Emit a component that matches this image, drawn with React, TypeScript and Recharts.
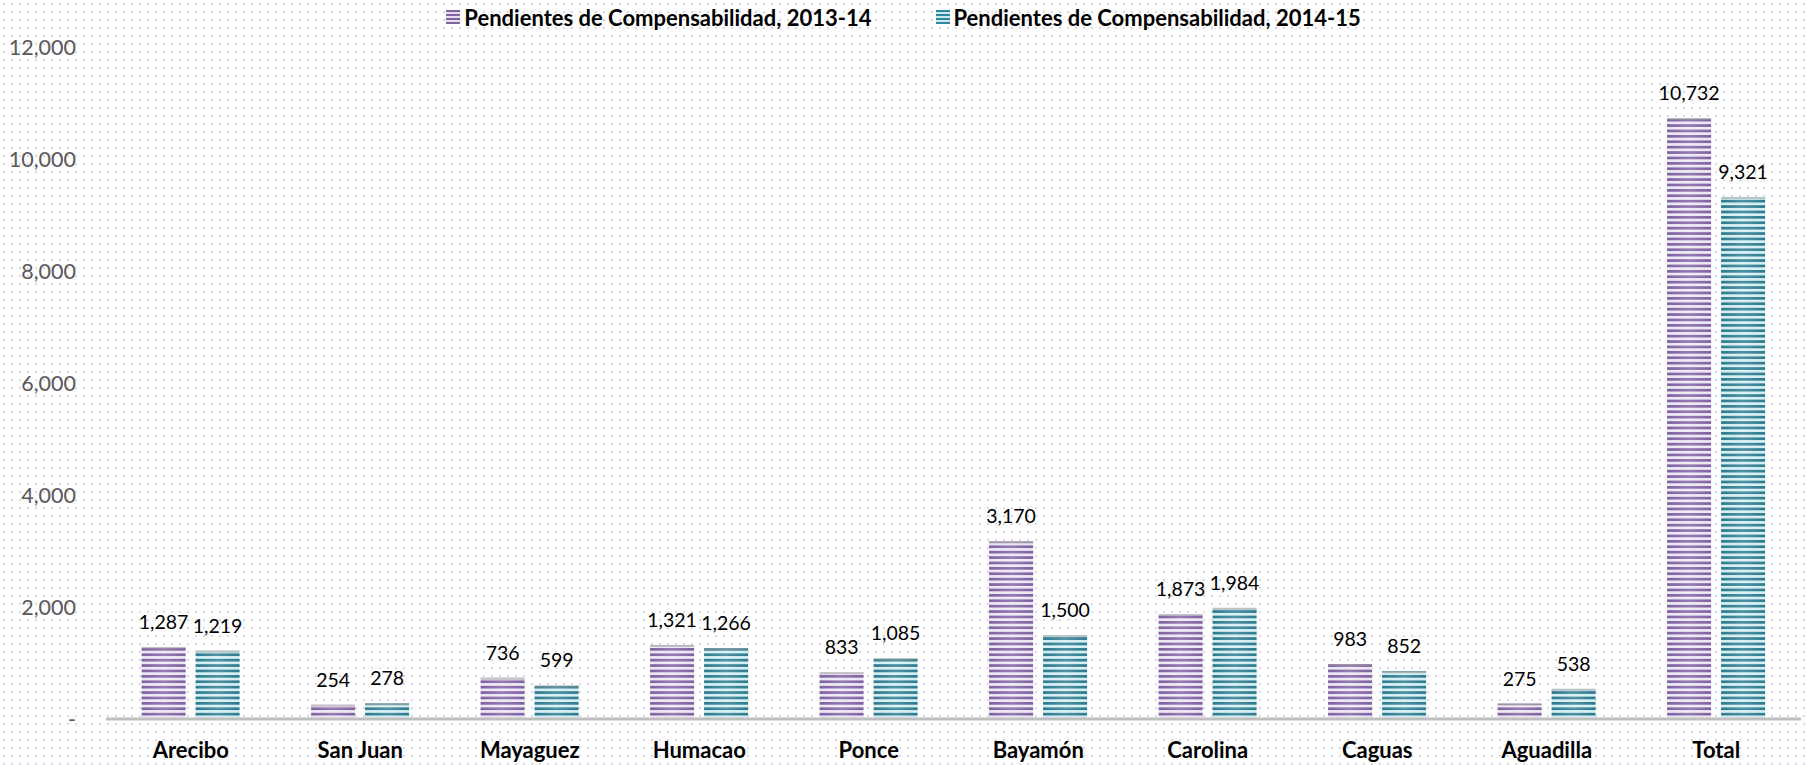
import React from 'react'
import { BarChart, Bar, XAxis, YAxis, Legend, LabelList } from 'recharts'

const regiones = ['Arecibo', 'San Juan', 'Mayaguez', 'Humacao', 'Ponce', 'Bayamón', 'Carolina', 'Caguas', 'Aguadilla', 'Total']
const pendientes1314 = [1287, 254, 736, 1321, 833, 3170, 1873, 983, 275, 10732]
const pendientes1415 = [1219, 278, 599, 1266, 1085, 1500, 1984, 852, 538, 9321]
const yTicks = [0, 2000, 4000, 6000, 8000, 10000, 12000]

const serie1 = 'Pendientes de Compensabilidad, 2013-14'
const serie2 = 'Pendientes de Compensabilidad, 2014-15'

const data = regiones.map((r, i) => ({ name: r, a: pendientes1314[i], b: pendientes1415[i] }))

const fmt = (v: number) => (v === 0 ? '-' : v.toLocaleString('en-US'))

const StripedBar = (patternId: string) => (props: any) => {
  const { x, y, width, height } = props
  if (!height || height <= 0) return null
  return (
    <g>
      <rect x={x} y={y} width={width} height={height} fill={`url(#${patternId})`} />
      <rect x={x} y={y} width={width} height={height} fill="url(#sheen)" />
      <rect x={x} y={y} width={width} height={2} fill="#9a9a9a" opacity={0.5} />
    </g>
  )
}

const LegendContent = () => (
  <div style={{ display: 'flex', justifyContent: 'center', gap: 64, height: 30, fontFamily: 'Lato', fontWeight: 700, fontSize: 22, color: '#000', marginLeft: 6 }}>
    {[
      { label: serie1, dark: '#8064a2', light: '#e5dfec' },
      { label: serie2, dark: '#31859c', light: '#c9e8ef' },
    ].map((it) => (
      <div key={it.label} style={{ display: 'flex', alignItems: 'center', gap: 4 }}>
        <svg width={14} height={14}>
          {[0, 1, 2, 3, 4, 5, 6].map((k) => (
            <rect key={k} x={0} y={k * 2} width={14} height={2} fill={k % 2 === 0 ? it.dark : it.light} />
          ))}
        </svg>
        <span>{it.label}</span>
      </div>
    ))}
  </div>
)

export default function App() {
  return (
    <div
      style={{
        position: 'absolute',
        left: 0,
        top: 0,
        width: 1807,
        height: 765,
        backgroundColor: '#ffffff',
        backgroundImage: 'radial-gradient(circle, #dcd6e8 1px, transparent 1.2px)',
        backgroundSize: '8px 8px',
      }}
    >
      <BarChart
        width={1807}
        height={765}
        data={data}
        margin={{ top: 17, right: 6, bottom: 6, left: 0 }}
        barCategoryGap="21%"
        barGap={10}
      >
        <defs>
          <pattern id="stripesPurple" patternUnits="userSpaceOnUse" width={8} height={5.4}>
            <rect x={0} y={0} width={8} height={5.4} fill="#ece7f3" />
            <rect x={0} y={0} width={8} height={2.7} fill="#7f60a3" />
          </pattern>
          <pattern id="stripesTeal" patternUnits="userSpaceOnUse" width={8} height={5.4}>
            <rect x={0} y={0} width={8} height={5.4} fill="#d3eef3" />
            <rect x={0} y={0} width={8} height={2.7} fill="#2b7a8e" />
          </pattern>
          <linearGradient id="sheen" x1="0" y1="0" x2="1" y2="0">
            <stop offset="0%" stopColor="#ffffff" stopOpacity={0} />
            <stop offset="50%" stopColor="#ffffff" stopOpacity={0.18} />
            <stop offset="100%" stopColor="#ffffff" stopOpacity={0} />
          </linearGradient>
        </defs>
        <Legend verticalAlign="top" align="center" content={<LegendContent />} wrapperStyle={{ top: 2 }} />
        <XAxis
          dataKey="name"
          height={40}
          tickLine={false}
          axisLine={{ stroke: '#bfbfbf', strokeWidth: 3 }}
          tick={{ fill: '#000', fontFamily: 'Lato', fontWeight: 700, fontSize: 22 }}
          tickMargin={17}
          interval={0}
        />
        <YAxis
          width={106}
          domain={[0, 12000]}
          ticks={yTicks}
          tickFormatter={fmt}
          axisLine={false}
          tickLine={false}
          tickMargin={24}
          tick={{ fill: '#595959', fontFamily: 'Lato', fontSize: 21.5 }}
        />
        <Bar dataKey="a" name={serie1} isAnimationActive={false} shape={StripedBar('stripesPurple')}>
          <LabelList dataKey="a" position="top" offset={18} formatter={(v: any) => fmt(Number(v))} style={{ fill: '#000', fontFamily: 'Lato', fontSize: 19.5 }} />
        </Bar>
        <Bar dataKey="b" name={serie2} isAnimationActive={false} shape={StripedBar('stripesTeal')}>
          <LabelList dataKey="b" position="top" offset={18} formatter={(v: any) => fmt(Number(v))} style={{ fill: '#000', fontFamily: 'Lato', fontSize: 19.5 }} />
        </Bar>
      </BarChart>
    </div>
  )
}
